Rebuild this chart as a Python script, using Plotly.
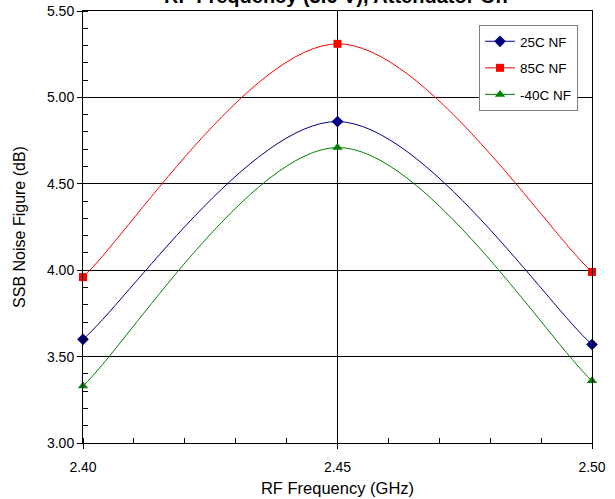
import plotly.graph_objects as go

freq = [2.40, 2.45, 2.50]
nf_25c = [3.60, 4.86, 3.57]
nf_85c = [3.96, 5.31, 3.99]
nf_m40c = [3.33, 4.71, 3.36]
series_names = ["25C NF", "85C NF", "-40C NF"]
title_text = "RF Frequency (3.6 V), Attenuator On"

FONT = "Arial, Liberation Sans, sans-serif"


def smooth_path(xs, ys):
    """Excel-style smoothed line: cubic Bezier with Catmull-Rom (1/6) control points."""
    n = len(xs)
    parts = [f"M{xs[0]},{ys[0]}"]
    for i in range(n - 1):
        p0 = max(i - 1, 0)
        p3 = min(i + 2, n - 1)
        c1x = xs[i] + (xs[i + 1] - xs[p0]) / 6
        c1y = ys[i] + (ys[i + 1] - ys[p0]) / 6
        c2x = xs[i + 1] - (xs[p3] - xs[i]) / 6
        c2y = ys[i + 1] - (ys[p3] - ys[i]) / 6
        parts.append(f"C{c1x},{c1y} {c2x},{c2y} {xs[i + 1]},{ys[i + 1]}")
    return " ".join(parts)


fig = go.Figure()
styles = [
    (nf_25c, "#000080", "diamond", 9),
    (nf_85c, "#FF0000", "square", 8),
    (nf_m40c, "#008000", "triangle-up", 9),
]
for i, (vals, color, sym, ms) in enumerate(styles):
    # smoothed connecting line, drawn in data coordinates through the axes
    fig.add_shape(type="path", path=smooth_path(freq, vals), xref="x", yref="y",
                  line=dict(color=color, width=1), layer="between")
    # data markers
    fig.add_trace(go.Scatter(
        x=freq, y=vals, name=series_names[i], mode="markers",
        marker=dict(color=color, symbol=sym, size=ms),
        showlegend=False, cliponaxis=False,
    ))
    # legend entry (line + marker)
    fig.add_trace(go.Scatter(
        x=[None], y=[None], name=series_names[i], mode="lines+markers",
        line=dict(color=color, width=1),
        marker=dict(color=color, symbol=sym, size=ms),
        legendgroup=f"g{i}",
    ))

axis_common = dict(
    showline=True, linecolor="black", linewidth=1, mirror=True,
    showgrid=True, gridcolor="black", gridwidth=1,
    ticks="outside", ticklen=5, tickcolor="black",
    zeroline=False, automargin=False,
    tickfont=dict(family=FONT, size=14, color="black"),
)
fig.update_xaxes(
    range=[2.40, 2.50], dtick=0.05, tick0=2.40, tickformat=".2f",
    minor=dict(dtick=0.01, ticks="inside", ticklen=5, tickcolor="black", showgrid=False),
    title=dict(text="RF Frequency (GHz)", font=dict(family=FONT, size=16.5, color="black"), standoff=8),
    ticklabelstandoff=6,
    **axis_common,
)
fig.update_yaxes(
    range=[3.00, 5.50], dtick=0.5, tick0=3.0, tickformat=".2f",
    minor=dict(dtick=0.1, ticks="inside", ticklen=5, tickcolor="black", showgrid=False),
    title=dict(text="SSB Noise Figure (dB)", font=dict(family=FONT, size=16, color="black"), standoff=17),
    **axis_common,
)
fig.update_layout(
    width=615, height=499,
    margin=dict(l=83, r=23, t=11, b=56),
    paper_bgcolor="white", plot_bgcolor="white",
    font=dict(family=FONT, color="black"),
    showlegend=True,
    legend=dict(
        x=(479 - 83) / 509, y=(443 - 25) / 432, xanchor="left", yanchor="top",
        bgcolor="white", bordercolor="#808080", borderwidth=1,
        font=dict(family=FONT, size=13.5, color="black"),
        tracegroupgap=6, itemwidth=30,
    ),
    annotations=[dict(
        text="<b>" + title_text + "</b>", xref="paper", yref="paper",
        x=(162 - 83) / 509, y=1.0, xanchor="left", yanchor="bottom", yshift=2,
        showarrow=False, font=dict(family=FONT, size=20, color="black"),
    )],
)
fig.write_html("out.html", config={"displayModeBar": False},
               post_script="document.body.style.margin='0';")
